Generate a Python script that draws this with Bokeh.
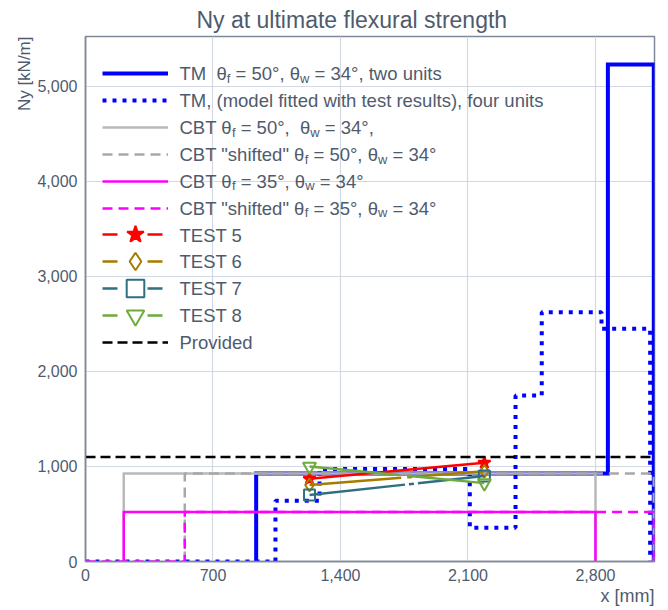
import re
from bokeh.plotting import figure
from bokeh.models import (Range1d, FixedTicker, NumeralTickFormatter, Legend,
                          LegendItem, Label, Title)
from bokeh.core.properties import value
from bokeh.embed import file_html
from bokeh.resources import INLINE

# ---------------- data ----------------
TM2_X = [937, 937, 2868, 2868, 3120, 3120]
TM2_Y = [0, 925, 925, 5230, 5230, 0]

TM4_X = [0, 1043, 1043, 1285, 1285, 2110, 2110, 2361, 2361, 2505, 2505, 2833, 2833, 3100, 3100]
TM4_Y = [0, 0, 639, 639, 973, 973, 355, 355, 1747, 1747, 2624, 2624, 2449, 2449, 0]

CBT50_X = [210, 210, 2800, 2800]
CBT50_Y = [0, 925, 925, 0]
CBT50S_X = [545, 545, 3120, 3120]
CBT50S_Y = [0, 925, 925, 0]

CBT35_X = [210, 210, 2800, 2800]
CBT35_Y = [0, 520, 520, 0]
CBT35S_X = [0, 545, 545, 3120, 3120]
CBT35S_Y = [0, 0, 520, 520, 0]

TEST_X = [1230, 2190]
TEST5_Y = [870, 1040]
TEST6_Y = [805, 950]
TEST7_Y = [700, 900]
TEST8_Y = [1000, 825]

PROV_X = [0, 3120]
PROV_Y = [1100, 1100]

X_TICKS = [0, 700, 1400, 2100, 2800]
Y_TICKS = [0, 1000, 2000, 3000, 4000, 5000]
X_MAX = 3124
Y_MAX = 5526

TITLE = "Ny at ultimate flexural strength"
Y_LABEL = "Ny [kN/m]"
X_LABEL = "x [mm]"

LEGEND_LABELS = [
    [("TM  θ", False), ("f", True), (" = 50°, θ", False), ("w", True), (" = 34°, two units", False)],
    [("TM, (model fitted with test results), four units", False)],
    [("CBT θ", False), ("f", True), (" = 50°,  θ", False), ("w", True), (" = 34°,", False)],
    [('CBT "shifted" θ', False), ("f", True), (" = 50°, θ", False), ("w", True), (" = 34°", False)],
    [("CBT θ", False), ("f", True), (" = 35°, θ", False), ("w", True), (" = 34°", False)],
    [('CBT "shifted" θ', False), ("f", True), (" = 35°, θ", False), ("w", True), (" = 34°", False)],
    [("TEST 5", False)],
    [("TEST 6", False)],
    [("TEST 7", False)],
    [("TEST 8", False)],
    [("Provided", False)],
]

# ---------------- layout / style ----------------
W, H = 668, 610
FL, FT, FR, FB = 85, 36, 654, 561
FONT = "Liberation Sans"
TEXT_COLOR = "#4f5b6d"
AXIS_COLOR = "#7d8899"
GRID_COLOR = "#d3d9e2"
SUB = 0.7
SUB_SHIFT = 0.25
LABEL_DY = -6.5   # empirical correction of label baseline
NAN = float("nan")

ARIAL_W = {' ': 278, '!': 278, '"': 355, '(': 333, ')': 333, ',': 278, '.': 278,
           '/': 278, '=': 584, '[': 278, ']': 278, '°': 400, 'θ': 556,
           'A': 667, 'B': 667, 'C': 722, 'D': 722, 'E': 667, 'F': 611, 'M': 833,
           'N': 722, 'P': 667, 'S': 667, 'T': 611,
           'a': 556, 'b': 556, 'c': 500, 'd': 556, 'e': 556, 'f': 278, 'g': 556,
           'h': 556, 'i': 222, 'k': 500, 'l': 222, 'm': 833, 'n': 556, 'o': 556,
           'p': 556, 'r': 333, 's': 500, 't': 278, 'u': 556, 'v': 500, 'w': 722,
           'x': 500, 'y': 500}
for d in "0123456789":
    ARIAL_W[d] = 556


def text_width(s, size):
    return sum(ARIAL_W.get(c, 556) for c in s) * size / 1000.0


def add_rich_text(p, segments, x0, y0, size):
    """x0, y0: canvas pixels of baseline start (y from top)."""
    pos = 0.0
    for txt, sub in segments:
        fs = size * SUB if sub else size
        shift = size * SUB_SHIFT if sub else 0.0
        for m in re.finditer(r"\S+(?: \S+)*", txt):
            off = pos + text_width(txt[:m.start()], fs)
            cx, cy = x0 + off, y0 + shift + LABEL_DY
            p.add_layout(Label(x=cx - FL, y=FB - cy, x_units="screen", y_units="screen",
                               text=m.group(0), text_font=FONT,
                               text_font_size=f"{fs:.2f}px", text_color=TEXT_COLOR,
                               text_baseline="alphabetic", text_align="left"))
        pos += text_width(txt, fs)
    return pos


p = figure(width=W, height=H, x_range=Range1d(0, X_MAX), y_range=Range1d(0, Y_MAX),
           output_backend="svg", toolbar_location=None,
           min_border_left=FL, min_border_right=W - FR,
           min_border_top=FT, min_border_bottom=H - FB,
           background_fill_color="white", border_fill_color="white")

p.outline_line_color = AXIS_COLOR
p.outline_line_width = 1.5

for ax in (p.xaxis[0], p.yaxis[0]):
    ax.axis_line_color = AXIS_COLOR
    ax.axis_line_width = 1.5
    ax.major_tick_line_color = None
    ax.minor_tick_line_color = None
    ax.major_tick_out = 0
    ax.major_tick_in = 0
    ax.major_label_text_font = FONT
    ax.major_label_text_font_size = "16px"
    ax.major_label_text_color = TEXT_COLOR
    ax.formatter = NumeralTickFormatter(format="0,0")
p.xaxis[0].major_label_standoff = 7
p.yaxis[0].major_label_standoff = 8
p.xaxis[0].ticker = FixedTicker(ticks=X_TICKS)
p.yaxis[0].ticker = FixedTicker(ticks=Y_TICKS)
p.xgrid.grid_line_color = GRID_COLOR
p.ygrid.grid_line_color = GRID_COLOR
p.xgrid.grid_line_width = 1.2
p.ygrid.grid_line_width = 1.2

# title and axis titles
p.add_layout(Title(text=TITLE, align="left", offset=196 - FL, standoff=7,
                   text_font=FONT, text_font_size="23px", text_font_style="normal",
                   text_color=TEXT_COLOR), "above")
p.add_layout(Title(text=Y_LABEL, align="right", standoff=2,
                   text_font=FONT, text_font_size="17px", text_font_style="normal",
                   text_color=TEXT_COLOR), "left")
p.add_layout(Title(text=X_LABEL, align="right", standoff=0,
                   text_font=FONT, text_font_size="18px", text_font_style="normal",
                   text_color=TEXT_COLOR), "below")

BLUE = "#0000ff"
GRAY = "#b9b9b9"
GRAY_D = "#a8a8a8"
MAG = "#ff00ff"
RED = "#ff0000"
BROWN = "#a67c00"
TEAL = "#2e6f82"
GREEN = "#6cab3c"

r_tm2 = p.line(TM2_X, TM2_Y, line_color=BLUE, line_width=4, line_join="miter")
r_tm4 = p.line(TM4_X, TM4_Y, line_color=BLUE, line_width=4, line_dash="4 6")
r_c50 = p.line(CBT50_X, CBT50_Y, line_color=GRAY, line_width=2.5, line_join="miter")
r_c50s = p.line(CBT50S_X, CBT50S_Y, line_color=GRAY_D, line_width=2.5, line_dash="10 6")
r_c35 = p.line(CBT35_X, CBT35_Y, line_color=MAG, line_width=2.5, line_join="miter")
r_c35s = p.line(CBT35S_X, CBT35S_Y, line_color=MAG, line_width=2.5, line_dash="10 6")

tests = [
    (TEST5_Y, RED, "", "star", 13, RED),
    (TEST6_Y, BROWN, "92 6 5 4", "diamond", 13, None),
    (TEST7_Y, TEAL, "96 4 5 4", "square", 11, None),
    (TEST8_Y, GREEN, "90 8", "inverted_triangle", 13, None),
]
test_items = []
for ys, col, dash, marker, size, fill in tests:
    p.line(TEST_X, ys, line_color=col, line_width=2.5, line_dash=dash)
    # legend-only line sample (no visible data): short segments either side of the marker
    r_leg = p.line([NAN], [NAN], line_color=col, line_width=2.5, line_dash="15 30")
    r_sc = p.scatter(TEST_X, ys, marker=marker, size=size, line_color=col,
                     fill_color=fill, line_width=2)
    test_items.append([r_leg, r_sc])

r_prov = p.line(PROV_X, PROV_Y, line_color="black", line_width=2.5, line_dash="10 5")

# ---------------- legend (glyphs by Bokeh legends, texts as labels) ----------------
ROW0, PITCH = 73.3, 26.84
G_X, G_W, G_H = 102, 66, 44
groups = [[r_tm2], [r_tm4], [r_c50], [r_c50s], [r_c35], [r_c35s]] + test_items + [[r_prov]]
for i, g in enumerate(groups):
    cy = ROW0 + i * PITCH
    leg = Legend(items=[LegendItem(label=value(""), renderers=g)],
                 location=(G_X - FL, FB - (cy + G_H / 2)), margin=0, padding=0,
                 spacing=0, glyph_width=G_W, glyph_height=G_H, label_height=G_H,
                 label_width=0, label_standoff=0, label_text_font_size="1px",
                 background_fill_alpha=0, border_line_color=None)
    p.add_layout(leg)

LEG_FS = 18.5
lx = G_X + G_W + 11
for i, segs in enumerate(LEGEND_LABELS):
    cy = ROW0 + i * PITCH
    add_rich_text(p, segs, lx, cy + 0.36 * LEG_FS, LEG_FS)

open("out.html", "w").write(file_html(p, INLINE))
